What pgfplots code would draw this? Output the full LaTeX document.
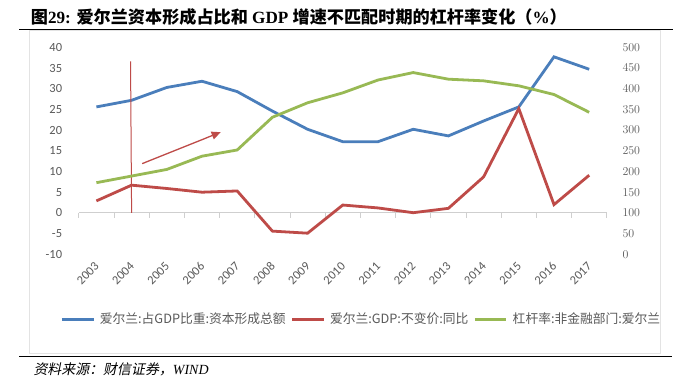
\documentclass[border=0pt]{standalone}
\usepackage{fontspec}
\usepackage{pgfplots}
\pgfplotsset{compat=1.18}
\usetikzlibrary{arrows.meta}
\setmainfont{Liberation Serif}
\newfontfamily\cjk{Noto Sans CJK SC}
\newfontfamily\cjkit{Noto Sans CJK SC}[FakeSlant=0.2]
\newfontfamily\carlito{Carlito}
\definecolor{sblue}{HTML}{4A7EBB}
\definecolor{sred}{HTML}{BE4B48}
\definecolor{sgreen}{HTML}{98B954}
\definecolor{tickgray}{HTML}{595959}
\definecolor{axisgray}{HTML}{CFCFCF}
\definecolor{framegray}{HTML}{E3E3E3}
\begin{document}
\begin{tikzpicture}
\path[use as bounding box] (0,0) rectangle (684bp,-376bp);
\fill[white] (0,0) rectangle (684bp,-376bp);
\draw[framegray, line width=0.8bp] (29.3bp,-30.8bp) rectangle (660.7bp,-353.5bp);
\draw[black, line width=1.1bp] (19.3bp,-29.3bp) -- (672.7bp,-29.3bp);
\draw[black, line width=1.1bp] (19.3bp,-356.8bp) -- (672bp,-356.8bp);
\node[anchor=base west, inner sep=0pt, font=\fontsize{17.2}{18}\selectfont\bfseries] at (30.7bp,-23.5bp)
  {{\cjk\bfseries 图}29: {\cjk\bfseries 爱尔兰资本形成占比和} GDP {\cjk\bfseries 增速不匹配时期的杠杆率变化（}\%{\cjk\bfseries ）}};
\node[anchor=base west, inner sep=0pt, font=\cjkit\fontsize{14}{16}\selectfont] at (33.3bp,-374.5bp)
  {资料来源：财信证券，{\rmfamily\itshape WIND}};

\begin{axis}[
  at={(78.8bp,-254.3bp)}, anchor=south west,
  scale only axis, width=528bp, height=207bp,
  xmin=-0.5, xmax=14.5, ymin=-10, ymax=40,
  axis line style={draw=none}, major tick length=0pt,
  xtick={0,1,...,14},
  xticklabels={2003,2004,2005,2006,2007,2008,2009,2010,2011,2012,2013,2014,2015,2016,2017},
  ytick={-10,-5,...,40},
  yticklabels={-10,-5,0,5,10,15,20,25,30,35,40},
  ticklabel style={font=\carlito\fontsize{12.5}{14}\selectfont, text=tickgray, inner sep=0pt},
  yticklabel style={anchor=east, xshift=-16.5bp},
  xticklabel style={xshift=0.5bp, yshift=-10bp, rotate=45, anchor=east},
  clip=false,
  legend columns=3,
  legend style={at={(-0.035,-0.314)}, anchor=west, draw=none, fill=none, inner sep=0pt,
    font=\cjk\fontsize{12.8}{15}\selectfont, text=tickgray,
    nodes={inner sep=0pt},
    /tikz/every odd column/.append style={column sep=5bp},
    /tikz/every even column/.append style={column sep=5bp}},
  legend image code/.code={\draw[#1] (0bp,0bp) -- (31.6bp,0bp);},
]
\draw[axisgray, line width=0.9bp] (axis cs:-0.5,0) -- (axis cs:14.5,0);
\pgfplotsinvokeforeach{-0.5,0.5,...,14.5}{\draw[axisgray, line width=0.9bp] (axis cs:#1,0) -- (axis cs:#1,-1.2);}
\addplot[sblue, line width=2.8bp] coordinates {
(0,25.6) (1,27.2) (2,30.3) (3,31.8) (4,29.3) (5,24.6) (6,20.2) (7,17.2) (8,17.2) (9,20.2) (10,18.6) (11,22.2) (12,25.6) (13,37.7) (14,34.7)};
\addlegendentry{爱尔兰:占GDP比重:资本形成总额}
\addplot[sred, line width=2.8bp] coordinates {
(0,2.9) (1,6.7) (2,5.9) (3,5.0) (4,5.3) (5,-4.4) (6,-4.9) (7,1.9) (8,1.2) (9,0.05) (10,1.1) (11,8.7) (12,25.2) (13,2.0) (14,9.1)};
\addlegendentry{爱尔兰:GDP:不变价:同比}
\addlegendimage{sgreen, line width=2.8bp}
\addlegendentry{杠杆率:非金融部门:爱尔兰}
\draw[sred, line width=1bp] (axis cs:0.97,36.6) -- (axis cs:1.0,0);
\draw[sred, line width=1.3bp, -{Triangle[length=9bp,width=8bp]}] (axis cs:1.30,11.9) -- (axis cs:3.53,19.5);
\end{axis}

\begin{axis}[
  at={(78.8bp,-254.3bp)}, anchor=south west,
  scale only axis, width=528bp, height=207bp,
  xmin=-0.5, xmax=14.5, ymin=0, ymax=500,
  axis line style={draw=none}, major tick length=0pt,
  axis y line*=right, xtick=\empty, axis x line=none,
  ytick={0,50,...,500},
  ticklabel style={font=\carlito\fontsize{12.5}{14}\selectfont, text=tickgray, inner sep=0pt},
  yticklabel style={anchor=west, xshift=15.5bp},
  clip=false,
]
\addplot[sgreen, line width=2.8bp] coordinates {
(0,173) (1,189) (2,205) (3,237) (4,252) (5,331) (6,366) (7,390) (8,421) (9,439) (10,423) (11,419) (12,407) (13,386) (14,343)};
\end{axis}
\end{tikzpicture}
\end{document}
